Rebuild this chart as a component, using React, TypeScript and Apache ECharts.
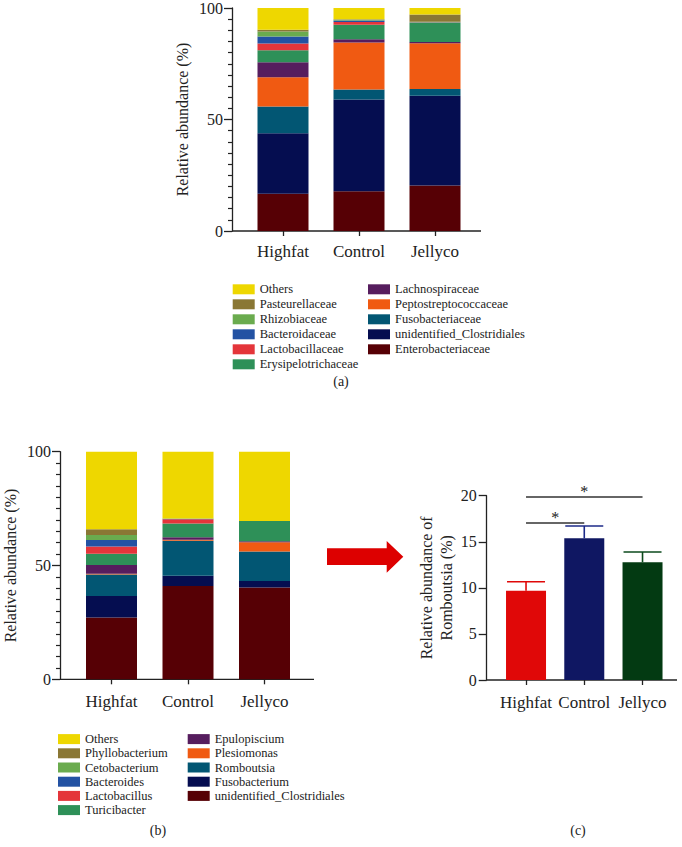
import React, { useEffect, useRef } from "react";
import * as echarts from "echarts";

// ---------- data ----------
const groups = ["Highfat", "Control", "Jellyco"];

// (a) family level, stacked from bottom to top
const familiesA = [
  "Enterobacteriaceae",
  "unidentified_Clostridiales",
  "Fusobacteriaceae",
  "Peptostreptococcaceae",
  "Lachnospiraceae",
  "Erysipelotrichaceae",
  "Lactobacillaceae",
  "Bacteroidaceae",
  "Rhizobiaceae",
  "Pasteurellaceae",
  "Others",
];
const enterobacteriaceae = [16.7, 17.8, 20.4];
const unidentifiedClostridialesA = [27.1, 41.2, 40.2];
const fusobacteriaceae = [12.0, 4.4, 3.1];
const peptostreptococcaceae = [13.2, 21.1, 20.5];
const lachnospiraceae = [6.7, 1.5, 0.6];
const erysipelotrichaceae = [5.4, 6.5, 8.6];
const lactobacillaceae = [3.0, 1.2, 0.1];
const bacteroidaceae = [3.1, 0.7, 0.1];
const rhizobiaceae = [2.3, 0.3, 0.2];
const pasteurellaceae = [0.8, 0.3, 3.3];
const othersA = [9.7, 5.0, 2.9];
const valuesA = [
  enterobacteriaceae,
  unidentifiedClostridialesA,
  fusobacteriaceae,
  peptostreptococcaceae,
  lachnospiraceae,
  erysipelotrichaceae,
  lactobacillaceae,
  bacteroidaceae,
  rhizobiaceae,
  pasteurellaceae,
  othersA,
];

// (b) genus level, stacked from bottom to top
const generaB = [
  "unidentified_Clostridiales",
  "Fusobacterium",
  "Romboutsia",
  "Plesiomonas",
  "Epulopiscium",
  "Turicibacter",
  "Lactobacillus",
  "Bacteroides",
  "Cetobacterium",
  "Phyllobacterium",
  "Others",
];
const unidentifiedClostridialesB = [27.2, 41.0, 40.3];
const fusobacterium = [9.4, 4.5, 2.9];
const romboutsia = [9.5, 15.4, 12.9];
const plesiomonas = [0.3, 0.4, 4.1];
const epulopiscium = [3.8, 1.1, 0.4];
const turicibacter = [5.0, 6.1, 8.9];
const lactobacillus = [3.1, 1.8, 0.0];
const bacteroides = [2.9, 0.1, 0.0];
const cetobacterium = [2.2, 0.3, 0.0];
const phyllobacterium = [2.5, 0.0, 0.0];
const othersB = [34.1, 29.3, 30.5];
const valuesB = [
  unidentifiedClostridialesB,
  fusobacterium,
  romboutsia,
  plesiomonas,
  epulopiscium,
  turicibacter,
  lactobacillus,
  bacteroides,
  cetobacterium,
  phyllobacterium,
  othersB,
];

// (c) Romboutsia relative abundance, mean and upper error
const romboutsiaMean = [9.69, 15.37, 12.77];
const romboutsiaUpper = [10.67, 16.71, 13.89];
// significance brackets: [from, to, height]
const sigPairs: [string, string, number][] = [
  ["Highfat", "Jellyco", 19.9],
  ["Highfat", "Control", 17.1],
];
const sigLabel = "*";

const yTicksStack = [0, 50, 100];
const yTicksC = [0, 5, 10, 15, 20];

// ---------- styles ----------
const palette = [
  "#560005",
  "#050D50",
  "#025673",
  "#F05A12",
  "#561D5E",
  "#2E9058",
  "#E4353A",
  "#2352A3",
  "#6AAB4E",
  "#8A7734",
  "#EED700",
];
const barColorsC = ["#E00808", "#0F1762", "#033A12"];
const errColorsC = ["#E00808", "#1C2A88", "#0B4A1C"];
const FONT = '"Liberation Serif", "Times New Roman", serif';
const INK = "#222";

function legendData(names: string[], all: string[]) {
  return names.map((n) => ({
    name: n,
    itemStyle: { color: palette[all.indexOf(n)] },
  }));
}

function stackAxisY(gridIndex: number, offset: number, nameGap: number) {
  return {
    type: "value",
    gridIndex,
    min: yTicksStack[0],
    max: yTicksStack[yTicksStack.length - 1],
    interval: yTicksStack[1] - yTicksStack[0],
    offset,
    name: "Relative abundance (%)",
    nameLocation: "middle",
    nameGap,
    nameTextStyle: { fontFamily: FONT, fontSize: 16, color: INK },
    axisLine: { show: true, lineStyle: { color: INK, width: 1.3 } },
    axisTick: { show: true, length: 8, lineStyle: { color: INK, width: 1.3 } },
    minorTick: { show: true, splitNumber: 10, length: 4, lineStyle: { color: INK, width: 1.2 } },
    splitLine: { show: false },
    axisLabel: { fontFamily: FONT, fontSize: 16, color: INK, margin: 9 },
  };
}

function catAxisX(gridIndex: number, fontSize: number, margin: number) {
  return {
    type: "category",
    gridIndex,
    data: groups,
    axisLine: { show: false },
    axisTick: { show: true, alignWithLabel: true, length: 5, lineStyle: { color: INK, width: 1.3 } },
    axisLabel: { fontFamily: FONT, fontSize, color: INK, margin, interval: 0, hideOverlap: false },
  };
}

const sigLabelStyle = { show: true, position: "middle", formatter: sigLabel, fontFamily: FONT, fontSize: 16, color: "#222", distance: -3 };

const option: any = {
  animation: false,
  backgroundColor: "#ffffff",
  grid: [
    { left: 245, top: 5, width: 228, height: 226 },
    { left: 73.25, top: 451.7, width: 229.5, height: 227.6 },
    { left: 496.9, top: 495.7, width: 174.75, height: 184.3 },
  ],
  xAxis: [catAxisX(0, 17, 12), catAxisX(1, 17, 14), catAxisX(2, 17, 14)],
  yAxis: [
    stackAxisY(0, 13, 42),
    stackAxisY(1, 13.25, 42),
    {
      type: "value",
      gridIndex: 2,
      min: yTicksC[0],
      max: yTicksC[yTicksC.length - 1],
      interval: yTicksC[1] - yTicksC[0],
      offset: 10.2,
      name: "Relative abundance of\nRomboutsia (%)",
      nameLocation: "middle",
      nameGap: 30,
      nameTextStyle: { fontFamily: FONT, fontSize: 16, color: INK, lineHeight: 20 },
      axisLine: { show: true, lineStyle: { color: INK, width: 1.3 } },
      axisTick: { show: true, length: 8, lineStyle: { color: INK, width: 1.3 } },
      splitLine: { show: false },
      axisLabel: { fontFamily: FONT, fontSize: 16, color: INK, margin: 10 },
    },
  ],
  legend: [
    {
      left: 232.7,
      top: 281.8,
      orient: "vertical",
      icon: "rect",
      itemWidth: 22,
      itemHeight: 10,
      itemGap: 0,
      padding: 0,
      selectedMode: false,
      textStyle: { fontFamily: FONT, fontSize: 12.5, lineHeight: 15, color: INK },
      data: legendData(["Others", "Pasteurellaceae", "Rhizobiaceae", "Bacteroidaceae", "Lactobacillaceae", "Erysipelotrichaceae"], familiesA),
    },
    {
      left: 368,
      top: 281.8,
      orient: "vertical",
      icon: "rect",
      itemWidth: 22,
      itemHeight: 10,
      itemGap: 0,
      padding: 0,
      selectedMode: false,
      textStyle: { fontFamily: FONT, fontSize: 12.5, lineHeight: 15, color: INK },
      data: legendData(["Lachnospiraceae", "Peptostreptococcaceae", "Fusobacteriaceae", "unidentified_Clostridiales", "Enterobacteriaceae"], familiesA),
    },
    {
      left: 58,
      top: 732,
      orient: "vertical",
      icon: "rect",
      itemWidth: 22,
      itemHeight: 10,
      itemGap: 0,
      padding: 0,
      selectedMode: false,
      textStyle: { fontFamily: FONT, fontSize: 12.5, lineHeight: 14.2, color: INK },
      data: legendData(["Others", "Phyllobacterium", "Cetobacterium", "Bacteroides", "Lactobacillus", "Turicibacter"], generaB),
    },
    {
      left: 187.7,
      top: 732,
      orient: "vertical",
      icon: "rect",
      itemWidth: 22,
      itemHeight: 10,
      itemGap: 0,
      padding: 0,
      selectedMode: false,
      textStyle: { fontFamily: FONT, fontSize: 12.5, lineHeight: 14.2, color: INK },
      data: legendData(["Epulopiscium", "Plesiomonas", "Romboutsia", "Fusobacterium", "unidentified_Clostridiales"], generaB),
    },
  ],
  series: [
    ...familiesA.map((name, i) => ({
      type: "bar",
      id: "a-" + name,
      name,
      xAxisIndex: 0,
      yAxisIndex: 0,
      stack: "a",
      barWidth: 51,
      itemStyle: { color: palette[i] },
      data: valuesA[i],
    })),
    ...generaB.map((name, i) => ({
      type: "bar",
      id: "b-" + name,
      name,
      xAxisIndex: 1,
      yAxisIndex: 1,
      stack: "b",
      barWidth: 51,
      itemStyle: { color: palette[i] },
      data: valuesB[i],
    })),
    {
      type: "bar",
      id: "c-romboutsia",
      name: "Romboutsia (c)",
      xAxisIndex: 2,
      yAxisIndex: 2,
      barWidth: 40,
      data: romboutsiaMean.map((v, i) => ({ value: v, itemStyle: { color: barColorsC[i] } })),
      markLine: {
        silent: true,
        symbol: ["none", "none"],
        lineStyle: { color: "#333", width: 1.5, type: "solid" },
        label: sigLabelStyle,
        data: sigPairs.map(([from, to, h]) => [
          { coord: [from, h], label: sigLabelStyle, lineStyle: { color: "#333", width: 1.5, type: "solid" } },
          { coord: [to, h] },
        ]),
      },
    },
    {
      type: "custom",
      id: "c-err",
      name: "error",
      xAxisIndex: 2,
      yAxisIndex: 2,
      z: 3,
      data: romboutsiaMean.map((v, i) => [i, v, romboutsiaUpper[i]]),
      renderItem: (params: any, api: any) => {
        const i = api.value(0);
        const base = api.coord([i, api.value(1)]);
        const top = api.coord([i, api.value(2)]);
        const color = errColorsC[params.dataIndex];
        const half = 19;
        return {
          type: "group",
          children: [
            { type: "line", shape: { x1: top[0], y1: base[1], x2: top[0], y2: top[1] }, style: { stroke: color, lineWidth: 1.6 } },
            { type: "line", shape: { x1: top[0] - half, y1: top[1], x2: top[0] + half, y2: top[1] }, style: { stroke: color, lineWidth: 1.6 } },
          ],
        };
      },
    },
  ],
  graphic: [
    { type: "line", shape: { x1: 232, y1: 231, x2: 481, y2: 231 }, style: { stroke: INK, lineWidth: 1.3 } },
    { type: "line", shape: { x1: 60, y1: 679.3, x2: 314, y2: 679.3 }, style: { stroke: INK, lineWidth: 1.3 } },
    { type: "line", shape: { x1: 486.7, y1: 680, x2: 677, y2: 680 }, style: { stroke: INK, lineWidth: 1.3 } },
    {
      type: "polygon",
      shape: {
        points: [
          [327, 548.3],
          [386.7, 548.3],
          [386.7, 541],
          [403.3, 556.7],
          [386.7, 572.7],
          [386.7, 565],
          [327, 565],
        ],
      },
      style: { fill: "#DD0000" },
    },
    { type: "text", x: 341, y: 381, style: { text: "(a)", fontFamily: FONT, fontSize: 14, fill: INK, align: "center", verticalAlign: "middle" } },
    { type: "text", x: 158, y: 830, style: { text: "(b)", fontFamily: FONT, fontSize: 14, fill: INK, align: "center", verticalAlign: "middle" } },
    { type: "text", x: 578, y: 830, style: { text: "(c)", fontFamily: FONT, fontSize: 14, fill: INK, align: "center", verticalAlign: "middle" } },
  ],
};

export default function App() {
  const ref = useRef<HTMLDivElement>(null);
  useEffect(() => {
    const chart = echarts.init(ref.current!, null, { renderer: "svg" });
    chart.setOption(option);
    return () => chart.dispose();
  }, []);
  return (
    <div
      ref={ref}
      style={{ position: "fixed", left: 0, top: 0, width: 682, height: 847, background: "#fff" }}
    />
  );
}
